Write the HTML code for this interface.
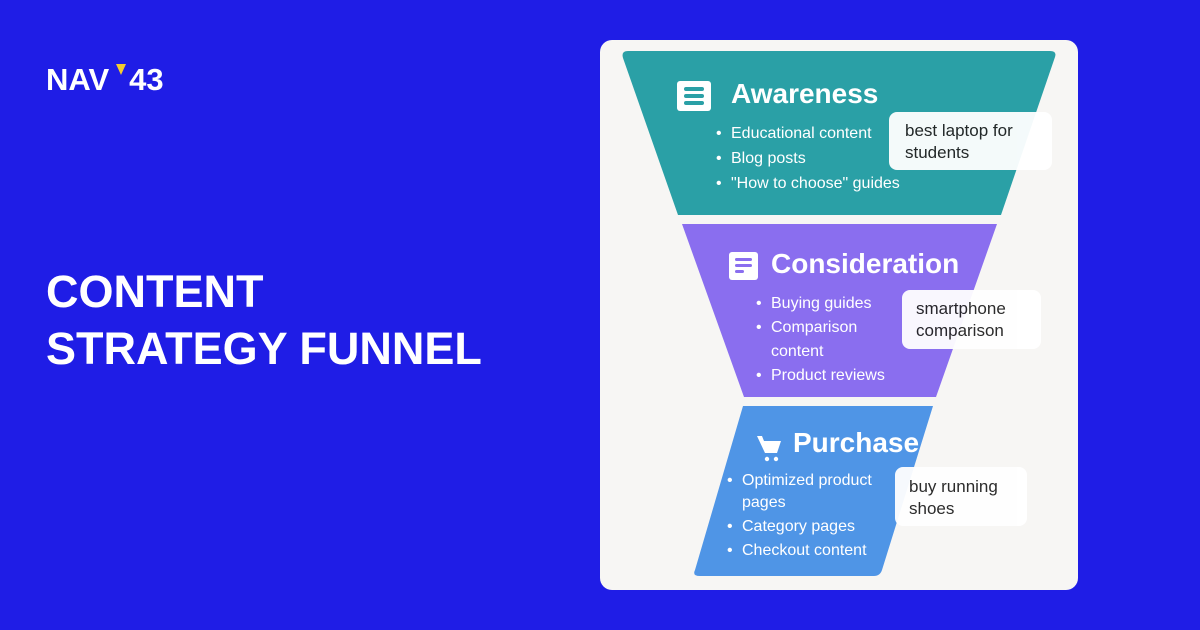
<!DOCTYPE html>
<html><head><meta charset="utf-8"><style>
body{margin:0;width:1200px;height:630px;background:#1f1de6;font-family:"Liberation Sans",sans-serif;position:relative;overflow:hidden}
.a{position:absolute}
.t{color:#fff;font-weight:700}
.card{left:600px;top:40px;width:478px;height:550px;background:#f7f6f4;border-radius:12px}
.h{color:#fff;font-size:28px;font-weight:600;white-space:nowrap}
.b{color:#fff;font-size:16px;line-height:25px;white-space:nowrap}
.b div::before{content:"•";margin-left:-15px;width:15px;display:inline-block}
.box{background:#fff;border-radius:8px;color:#222;font-size:17px;line-height:22px;padding:0 0 0 16px;box-sizing:border-box;opacity:.95}
.ic{background:#fff;border-radius:3px}
</style></head><body>
<div class="a t" style="left:46px;top:62px;font-size:31px">NAV<span style="display:inline-block;width:20px"></span>43</div>
<div class="a" style="left:116px;top:64px;width:0;height:0;border-left:5px solid transparent;border-right:5px solid transparent;border-top:11px solid #f5cc2e"></div>
<div class="a t" style="left:46px;top:263px;font-size:45px;line-height:57px">CONTENT<br>STRATEGY FUNNEL</div>
<div class="a card"></div>
<svg class="a" style="left:0;top:0" width="1200" height="630">
<path d="M628 51 L1050 51 Q1057 51 1055 57 L1001 215 L678 215 L623 58 Q621 51 628 51Z" fill="#2aa0a6"/>
<path d="M682 224 L997 224 L936 397 L744 397Z" fill="#8a6eef"/>
<path d="M743 406 L933 406 L882 570 Q880 576 874 576 L700 576 Q692 576 695 570Z" fill="#4f95e6"/>
<g fill="#fff"><path d="M757 436 L762 436 L764 441 L781 441 L777 453 L765 453 Z"/><circle cx="767" cy="459" r="2.2"/><circle cx="776" cy="459" r="2.2"/></g>
</svg>
<div class="a ic" style="left:677px;top:81px;width:34px;height:30px"></div>
<div class="a" style="left:684px;top:87px;width:20px;height:4px;background:#2aa0a6;border-radius:2px;box-shadow:0 7px 0 #2aa0a6,0 14px 0 #2aa0a6"></div>
<div class="a h" style="left:731px;top:78px">Awareness</div>
<div class="a b" style="left:731px;top:121px"><div>Educational content</div><div>Blog posts</div><div>"How to choose" guides</div></div>
<div class="a box" style="left:889px;top:112px;width:163px;height:58px;padding-top:8px">best laptop for<br>students</div>

<div class="a ic" style="left:729px;top:252px;width:29px;height:28px"></div>
<div class="a" style="left:735px;top:258px;width:17px;height:3px;background:#8a6eef;border-radius:2px;box-shadow:0 6px 0 #8a6eef"></div>
<div class="a" style="left:735px;top:270px;width:9px;height:3px;background:#8a6eef;border-radius:2px"></div>
<div class="a h" style="left:771px;top:248px">Consideration</div>
<div class="a b" style="left:771px;top:292px;line-height:24px"><div>Buying guides</div><div>Comparison<br>content</div><div>Product reviews</div></div>
<div class="a box" style="left:902px;top:290px;width:139px;height:59px;padding-top:8px;padding-left:14px">smartphone<br>comparison</div>

<div class="a h" style="left:793px;top:427px">Purchase</div>
<div class="a b" style="left:742px;top:470px;line-height:22px"><div>Optimized product<br>pages</div><div style="margin-top:2px">Category pages</div><div style="margin-top:2px">Checkout content</div></div>
<div class="a box" style="left:895px;top:467px;width:132px;height:59px;padding-top:9px;padding-left:14px">buy running<br>shoes</div>
</body></html>
